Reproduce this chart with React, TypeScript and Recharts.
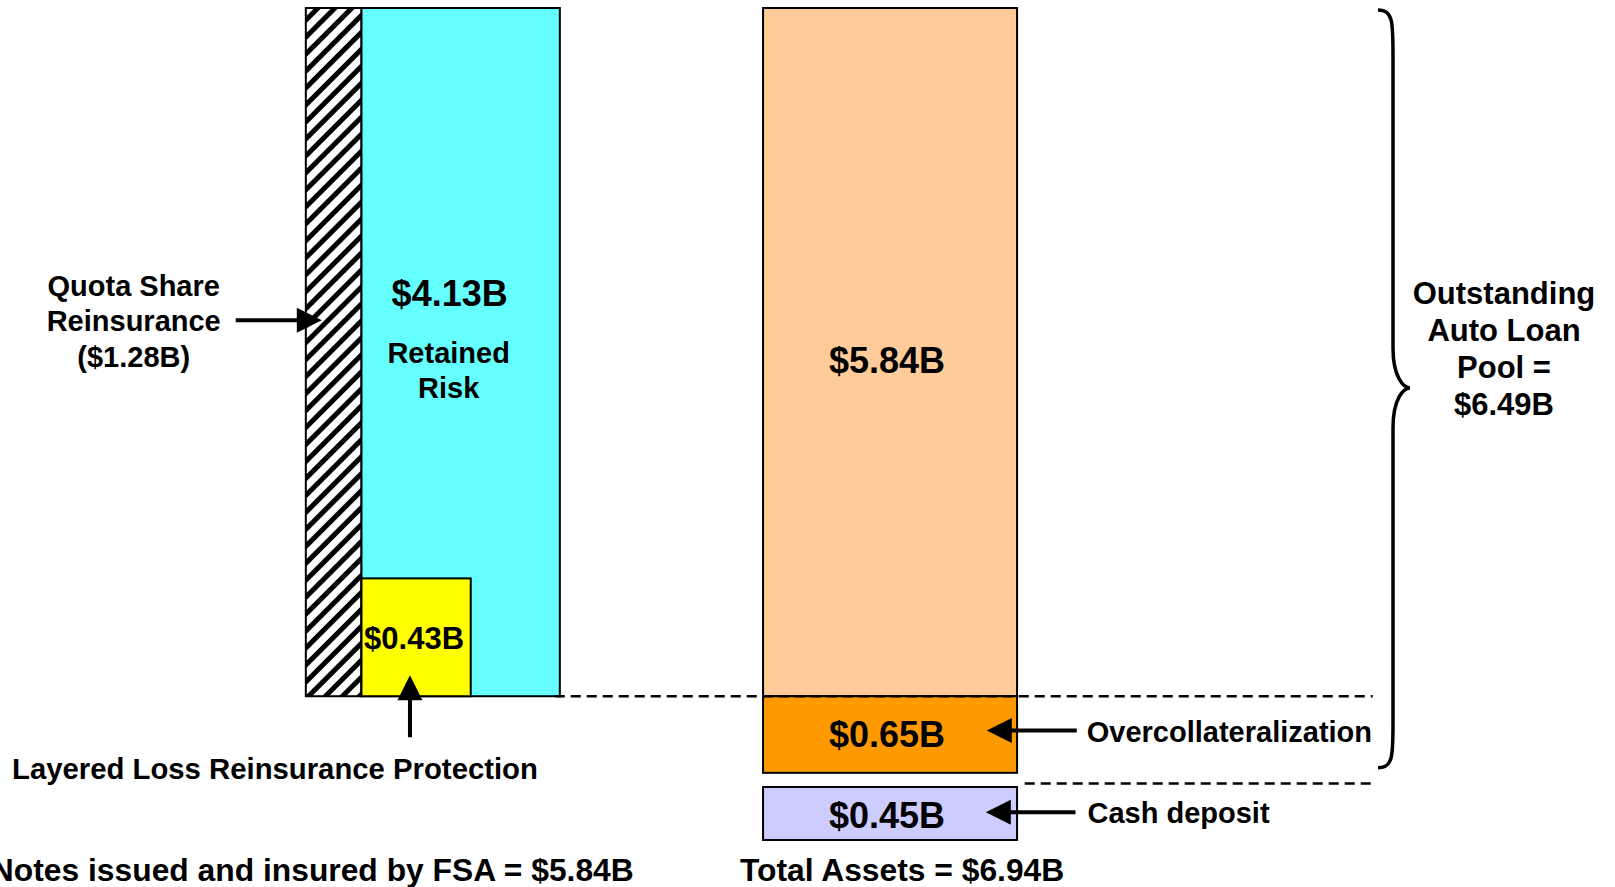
import { ComposedChart, XAxis, YAxis, ReferenceArea, ReferenceLine, ReferenceDot } from 'recharts'

// left column: notes issued and insured by FSA ($B)
const notesParts = ['Quota Share Reinsurance', 'Retained Risk', 'Layered Loss Reinsurance Protection']
const notesValues = [1.28, 4.13, 0.43]
const notesTotal = 5.84

// right column: assets ($B), bottom to top
const assetParts = ['Cash deposit', 'Overcollateralization', 'Notes']
const assetValues = [0.45, 0.65, 5.84]
const poolTotal = 6.49
const totalAssets = 6.94

const fmt = (v: number) => `$${v.toFixed(2)}B`

const FONT = '"Liberation Sans", Arial, Helvetica, sans-serif'
// x axis: 1 unit = one column width, y axis: $B
const LEFT_COL = 0
const RIGHT_COL = 1.8
const CASH_GAP = 0.12
const LAYER_W = 0.43

const [quota, retained, layered] = notesValues
const [cash, overcoll, notes] = assetValues
const quotaW = quota / notesTotal
const cashTop = -(overcoll + CASH_GAP)

// the chart needs rows to build its scales
const columnData = [
  { col: LEFT_COL + 0.5, total: notesTotal },
  { col: RIGHT_COL + 0.5, total: totalAssets },
]

type Line = { text: string; dx: number; dy: number; size: number; anchor?: 'start' | 'middle' | 'end' }

function Txt({ x, y, size, anchor = 'middle', children }: any) {
  return (
    <text x={x} y={y} fontSize={size} fontWeight={700} fontFamily={FONT} textAnchor={anchor} dominantBaseline="central" fill="#000">
      {children}
    </text>
  )
}

// rect drawn from the scaled area + text placed from its centre
const box = (fill: string, lines: Line[] = []) => (p: any) => {
  const cx = p.x + p.width / 2
  const cy = p.y + p.height / 2
  return (
    <g>
      <rect x={p.x} y={p.y} width={p.width} height={p.height} fill={fill} stroke="#000" strokeWidth={2} />
      {lines.map((l, i) => (
        <Txt key={i} x={cx + l.dx} y={cy + l.dy} size={l.size} anchor={l.anchor}>{l.text}</Txt>
      ))}
    </g>
  )
}

// arrow from (x1,y1) to tip (x2,y2); text relative to tail
const arrow = (lines: Line[] = []) => (p: any) => {
  const { x1, y1, x2, y2 } = p
  const len = Math.hypot(x2 - x1, y2 - y1) || 1
  const ux = (x2 - x1) / len
  const uy = (y2 - y1) / len
  const head = 25
  const half = 12.5
  const bx = x2 - ux * head
  const by = y2 - uy * head
  return (
    <g>
      <line x1={x1} y1={y1} x2={bx + ux * 2} y2={by + uy * 2} stroke="#000" strokeWidth={4} />
      <polygon points={`${x2},${y2} ${bx - uy * half},${by + ux * half} ${bx + uy * half},${by - ux * half}`} fill="#000" />
      {lines.map((l, i) => (
        <Txt key={i} x={x1 + l.dx} y={y1 + l.dy} size={l.size} anchor={l.anchor}>{l.text}</Txt>
      ))}
    </g>
  )
}

const brace = (lines: Line[]) => (p: any) => {
  const xs = p.x1
  const yt = p.y1 + 2
  const yb = p.y2 - 5
  const xe = xs - 15
  const xp = xs + 17
  const ym = (yt + yb) / 2 - 1
  const d = `M${xe},${yt} C${xs},${yt} ${xs},${yt + 12} ${xs},${yt + 45} L${xs},${ym - 40} C${xs},${ym - 10} ${xp - 6},${ym} ${xp},${ym} C${xp - 6},${ym} ${xs},${ym + 10} ${xs},${ym + 40} L${xs},${yb - 45} C${xs},${yb - 12} ${xs},${yb} ${xe},${yb}`
  return (
    <g>
      <path d={d} fill="none" stroke="#000" strokeWidth={3.5} />
      {lines.map((l, i) => (
        <Txt key={i} x={xs + l.dx} y={ym + l.dy} size={l.size} anchor={l.anchor}>{l.text}</Txt>
      ))}
    </g>
  )
}

const label = (text: string, anchor: 'start' | 'middle' | 'end', size: number) => (p: any) => (
  <Txt x={p.cx} y={p.cy} size={size} anchor={anchor}>{text}</Txt>
)

export default function App() {
  return (
    <div style={{ position: 'absolute', left: 0, top: 0, width: 1615, height: 887, background: '#fff' }}>
      <ComposedChart width={1615} height={887} data={columnData} margin={{ top: 8, right: 1, bottom: 14, left: 1 }}>
        <defs>
          <pattern id="hatch" patternUnits="userSpaceOnUse" width="12" height="12" patternTransform="rotate(45)">
            <rect width="12" height="12" fill="#fff" />
            <rect width="5" height="12" fill="#000" />
          </pattern>
        </defs>
        <XAxis type="number" dataKey="col" hide domain={[-1.2, 5.15]} allowDataOverflow />
        <YAxis type="number" dataKey="total" hide domain={[-1.5, 5.84]} allowDataOverflow />

        {/* left column: notes */}
        <ReferenceArea x1={LEFT_COL} x2={LEFT_COL + quotaW} y1={0} y2={notesTotal} ifOverflow="visible" shape={box('url(#hatch)')} />
        <ReferenceArea
          x1={LEFT_COL + quotaW}
          x2={LEFT_COL + 1}
          y1={0}
          y2={notesTotal}
          ifOverflow="visible"
          shape={box('#66FFFF', [
            { text: fmt(retained), dx: -11, dy: -59, size: 36 },
            { text: 'Retained', dx: -12, dy: 1, size: 29 },
            { text: 'Risk', dx: -12, dy: 36, size: 29 },
          ])}
        />
        <ReferenceArea
          x1={LEFT_COL + quotaW}
          x2={LEFT_COL + quotaW + LAYER_W}
          y1={0}
          y2={layered / LAYER_W}
          ifOverflow="visible"
          shape={box('#FFFF00', [{ text: fmt(layered), dx: -2, dy: 1, size: 31 }])}
        />

        {/* right column: assets */}
        <ReferenceArea x1={RIGHT_COL} x2={RIGHT_COL + 1} y1={0} y2={notes} ifOverflow="visible" shape={box('#FFCC99', [{ text: fmt(notes), dx: -3, dy: 8, size: 36 }])} />
        <ReferenceArea x1={RIGHT_COL} x2={RIGHT_COL + 1} y1={-overcoll} y2={0} ifOverflow="visible" shape={box('#FF9900', [{ text: fmt(overcoll), dx: -3, dy: 0, size: 36 }])} />
        <ReferenceArea x1={RIGHT_COL} x2={RIGHT_COL + 1} y1={cashTop - cash} y2={cashTop} ifOverflow="visible" shape={box('#CCCCFF', [{ text: fmt(cash), dx: -3, dy: 2, size: 36 }])} />

        {/* dashed guides */}
        <ReferenceLine segment={[{ x: 0.98, y: 0 }, { x: 4.2, y: 0 }]} ifOverflow="visible" stroke="#000" strokeWidth={2.5} strokeDasharray="10 6" />
        <ReferenceLine segment={[{ x: 2.83, y: -0.74 }, { x: 4.2, y: -0.74 }]} ifOverflow="visible" stroke="#000" strokeWidth={2.5} strokeDasharray="10 6" />

        {/* annotations */}
        <ReferenceLine
          segment={[{ x: -0.276, y: 3.19 }, { x: 0.063, y: 3.19 }]}
          ifOverflow="visible"
          shape={arrow([
            { text: 'Quota Share', dx: -102, dy: -34, size: 29 },
            { text: 'Reinsurance', dx: -102, dy: 1, size: 29 },
            { text: `(${fmt(quota)})`, dx: -102, dy: 37, size: 29 },
          ])}
        />
        <ReferenceLine
          segment={[{ x: 0.41, y: -0.348 }, { x: 0.41, y: 0.178 }]}
          ifOverflow="visible"
          shape={arrow([{ text: notesParts[2], dx: -135, dy: 31, size: 29.3 }])}
        />
        <ReferenceLine
          segment={[{ x: 3.035, y: -0.29 }, { x: 2.681, y: -0.29 }]}
          ifOverflow="visible"
          shape={arrow([{ text: assetParts[1], dx: 10, dy: 2, size: 29 }].map((l) => ({ ...l, anchor: 'start' as const })))}
        />
        <ReferenceLine
          segment={[{ x: 3.03, y: -0.985 }, { x: 2.677, y: -0.985 }]}
          ifOverflow="visible"
          shape={arrow([{ text: assetParts[0], dx: 12, dy: 1, size: 29, anchor: 'start' }])}
        />
        <ReferenceLine
          segment={[{ x: 4.28, y: notes }, { x: 4.28, y: -overcoll }]}
          ifOverflow="visible"
          shape={brace([
            { text: 'Outstanding', dx: 111, dy: -94, size: 31 },
            { text: 'Auto Loan', dx: 111, dy: -57, size: 31 },
            { text: 'Pool =', dx: 111, dy: -20, size: 31 },
            { text: fmt(poolTotal), dx: 111, dy: 17, size: 31 },
          ])}
        />

        <ReferenceDot x={1.291} y={-1.477} ifOverflow="visible" shape={label(`Notes issued and insured by FSA = ${fmt(notesTotal)}`, 'end', 31.8)} />
        <ReferenceDot x={1.709} y={-1.477} ifOverflow="visible" shape={label(`Total Assets = ${fmt(totalAssets)}`, 'start', 31.8)} />
      </ComposedChart>
    </div>
  )
}
